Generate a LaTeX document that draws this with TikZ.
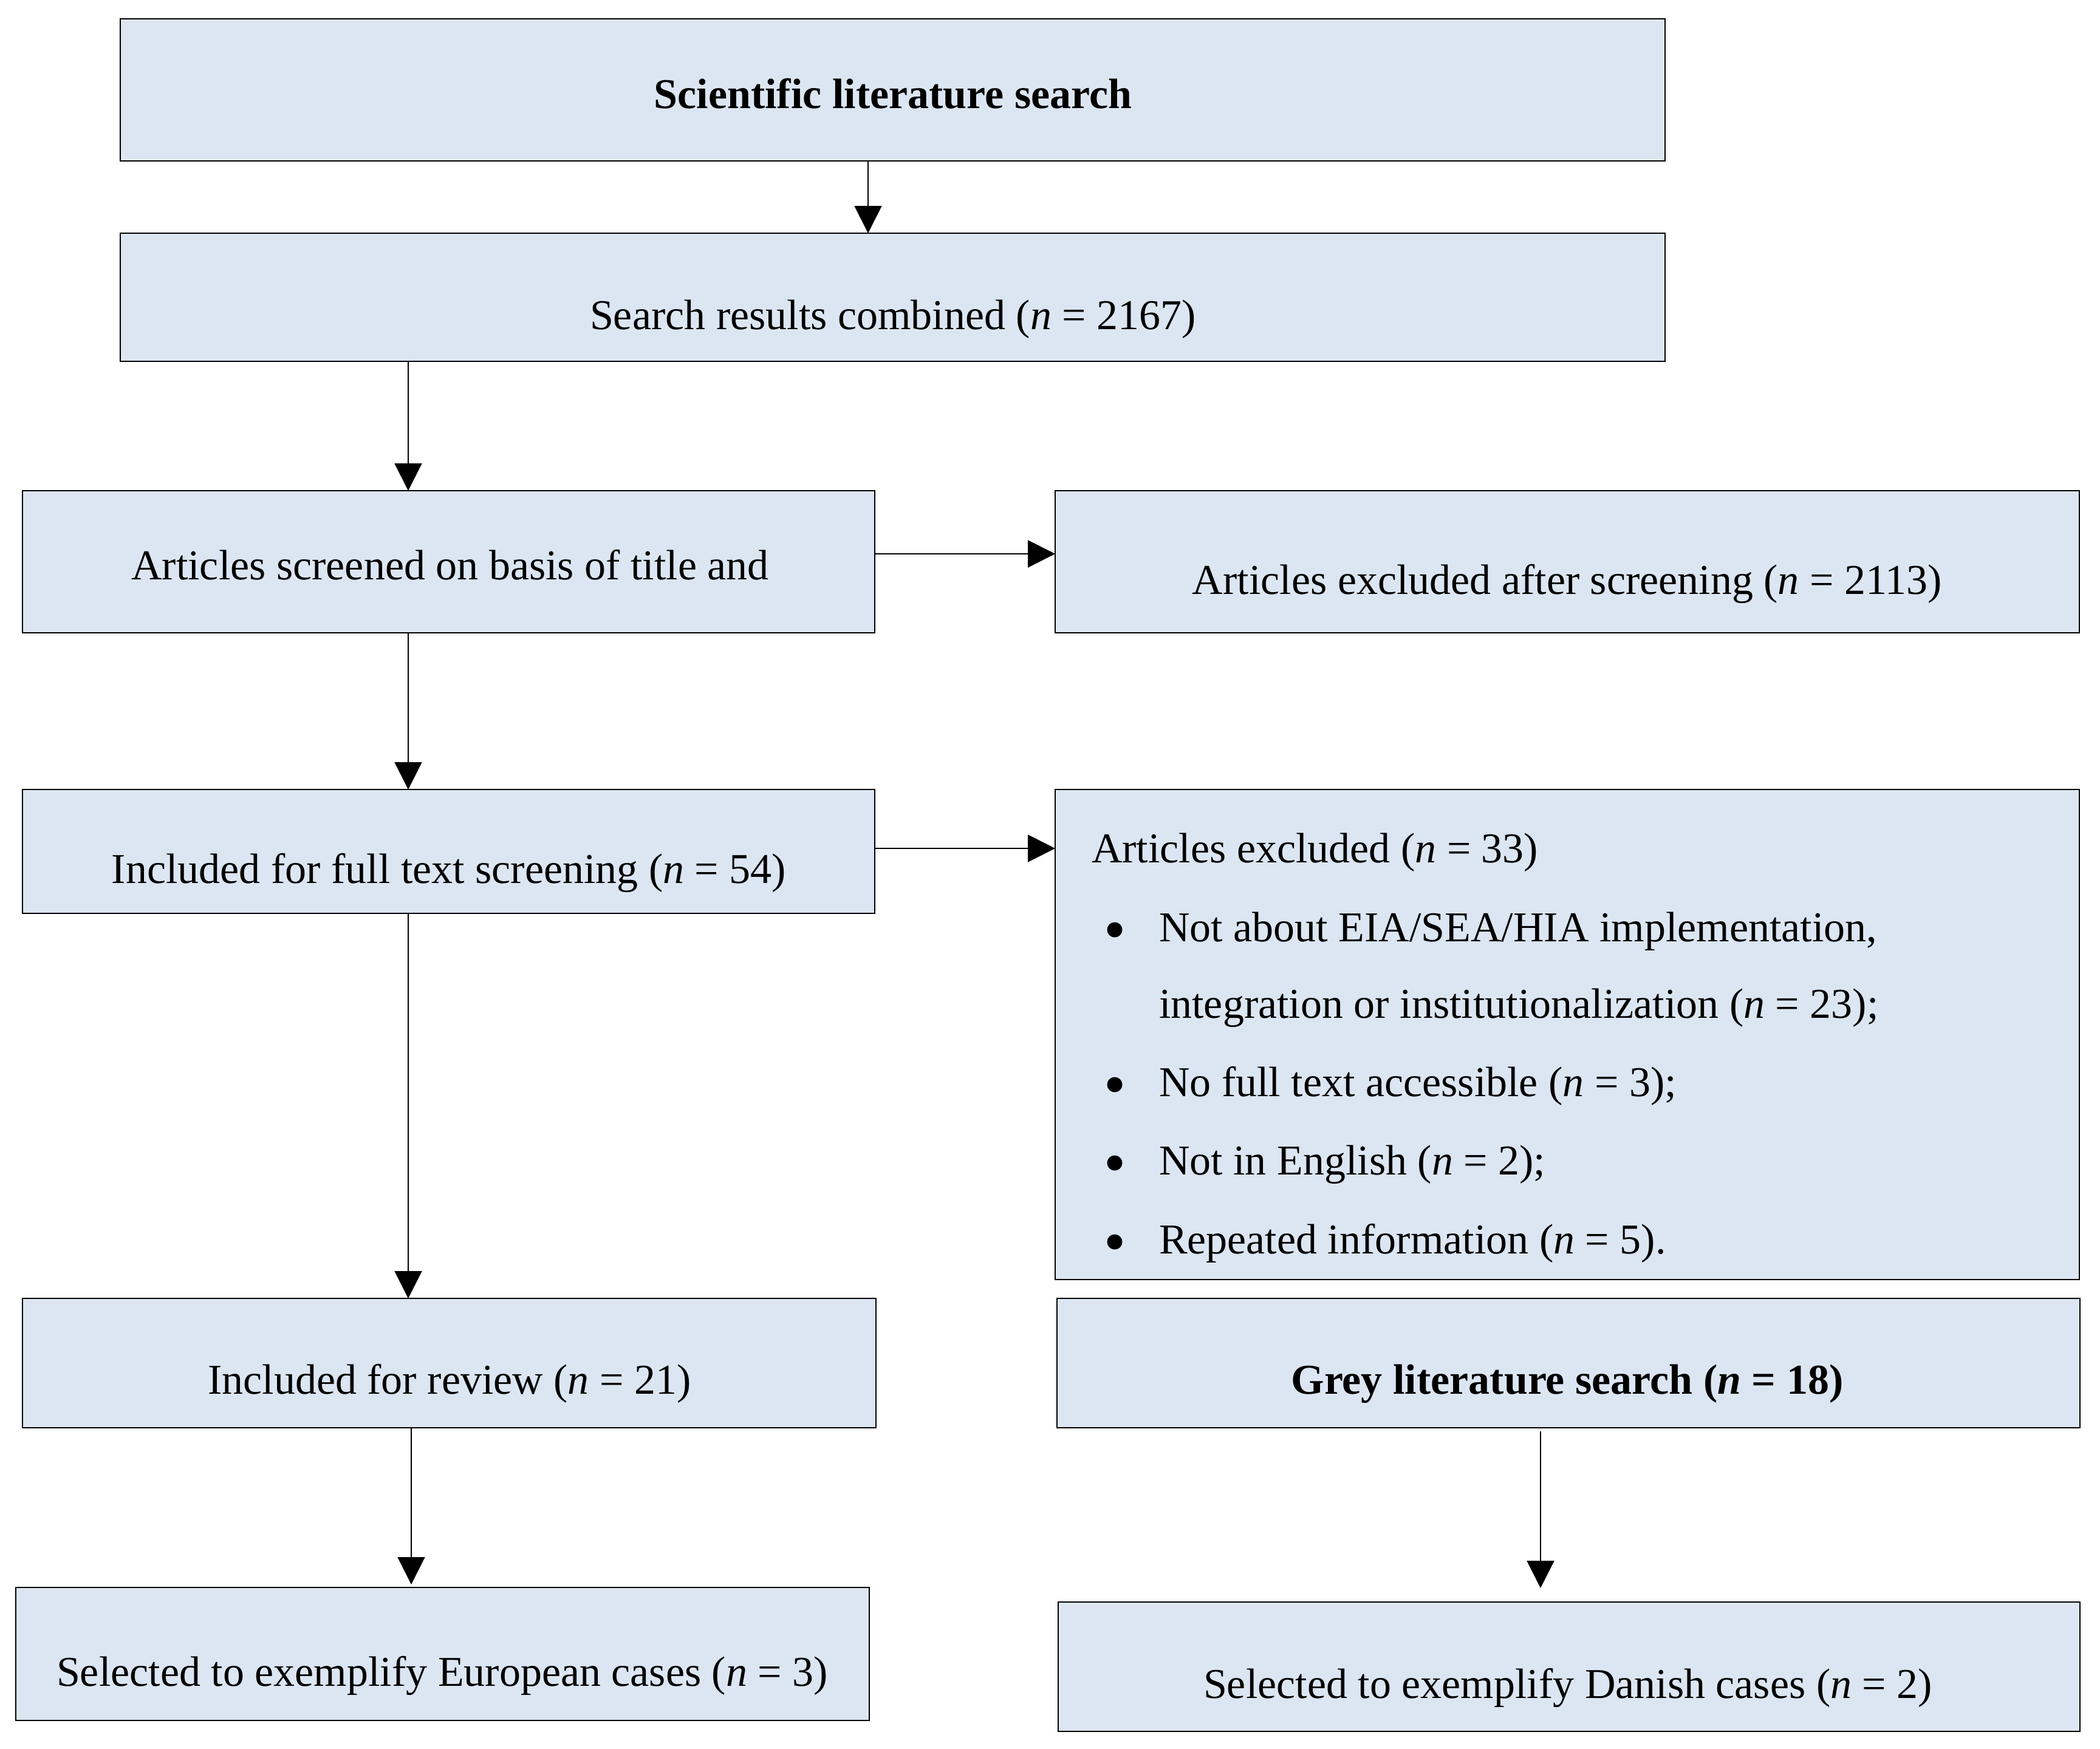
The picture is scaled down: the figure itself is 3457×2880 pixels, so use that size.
\documentclass[tikz,border=0pt]{standalone}
\usepackage{fontspec}
\setmainfont{Liberation Serif}
\usetikzlibrary{arrows.meta,fit}
\definecolor{boxfill}{HTML}{DCE6F2}
\begin{document}
\begin{tikzpicture}[x=0.2pt,y=-0.2pt,
  box/.style={draw=black, line width=0.5pt, fill=boxfill, inner sep=0pt, outer sep=0pt},
  lbl/.style={anchor=base, inner sep=0pt, font=\fontsize{14pt}{16pt}\selectfont},
  lblw/.style={lbl, anchor=base west},
  dot/.style={circle, fill=black, inner sep=0pt, minimum size=5pt},
  arr/.style={draw=black, line width=0.4pt, -{Triangle[length=9pt,width=9pt]}}]
\useasboundingbox (0,0) rectangle (3457,2880);
% boxes
\node[box, fit={(198,31) (2741,265)}] (b1) {};
\node[box, fit={(198,384) (2741,595)}] (b2) {};
\node[box, fit={(37,808) (1440,1042)}] (b3) {};
\node[box, fit={(1737,808) (3423,1042)}] (r3) {};
\node[box, fit={(37,1300) (1440,1504)}] (b4) {};
\node[box, fit={(1737,1300) (3423,2107)}] (r4) {};
\node[box, fit={(37,2138) (1442,2351)}] (b5) {};
\node[box, fit={(1740,2138) (3424,2351)}] (grey) {};
\node[box, fit={(26,2614) (1431,2833)}] (b6) {};
\node[box, fit={(1742,2638) (3424,2851)}] (dan) {};
% texts
\node[lbl] (t1) at (1470,178) {\textbf{Scientific literature search}};
\node[lbl] (t2) at (1470,542) {Search results combined (\textit{n} = 2167)};
\node[lbl] (t3) at (741,954) {Articles screened on basis of title and};
\node[lbl] (t3r) at (2580,978) {Articles excluded after screening (\textit{n} = 2113)};
\node[lbl] (t4) at (739,1454) {Included for full text screening (\textit{n} = 54)};
\node[lblw] (t4h) at (1796,1420) {Articles excluded (\textit{n} = 33)};
\node[dot] (bu1) at (1835,1531) {};
\node[lblw] (t4a) at (1907,1550) {Not about EIA/SEA/HIA implementation,};
\node[lblw] (t4b) at (1907,1676) {integration or institutionalization (\textit{n} = 23);};
\node[dot] (bu2) at (1835,1786) {};
\node[lblw] (t4c) at (1907,1805) {No full text accessible (\textit{n} = 3);};
\node[dot] (bu3) at (1835,1915) {};
\node[lblw] (t4d) at (1907,1934) {Not in English (\textit{n} = 2);};
\node[dot] (bu4) at (1835,2045) {};
\node[lblw] (t4e) at (1907,2064) {Repeated information (\textit{n} = 5).};
\node[lbl] (t5) at (740,2295) {Included for review (\textit{n} = 21)};
\node[lbl] (tg) at (2580,2295) {\textbf{Grey literature search (\textit{n} = 18)}};
\node[lbl] (t6) at (728,2776) {Selected to exemplify European cases (\textit{n} = 3)};
\node[lbl] (td) at (2581,2796) {Selected to exemplify Danish cases (\textit{n} = 2)};
% connector guides
\coordinate (x1) at (1429,0);
\coordinate (x2) at (672,0);
\coordinate (x3) at (677,0);
\coordinate (x4) at (2536,0);
\coordinate (y3) at (0,912);
\coordinate (y4) at (0,1397);
% connectors
\draw[arr] (x1 |- b1.south) -- (x1 |- b2.north);
\draw[arr] (x2 |- b2.south) -- (x2 |- b3.north);
\draw[arr] (b3.east |- y3) -- (r3.west |- y3);
\draw[arr] (x2 |- b3.south) -- (x2 |- b4.north);
\draw[arr] (b4.east |- y4) -- (r4.west |- y4);
\draw[arr] (x2 |- b4.south) -- (x2 |- b5.north);
\draw[arr, shorten >=1pt] (x3 |- b5.south) -- (x3 |- b6.north);
\draw[arr, shorten <=1.2pt, shorten >=4.6pt] (x4 |- grey.south) -- (x4 |- dan.north);
\end{tikzpicture}
\end{document}
